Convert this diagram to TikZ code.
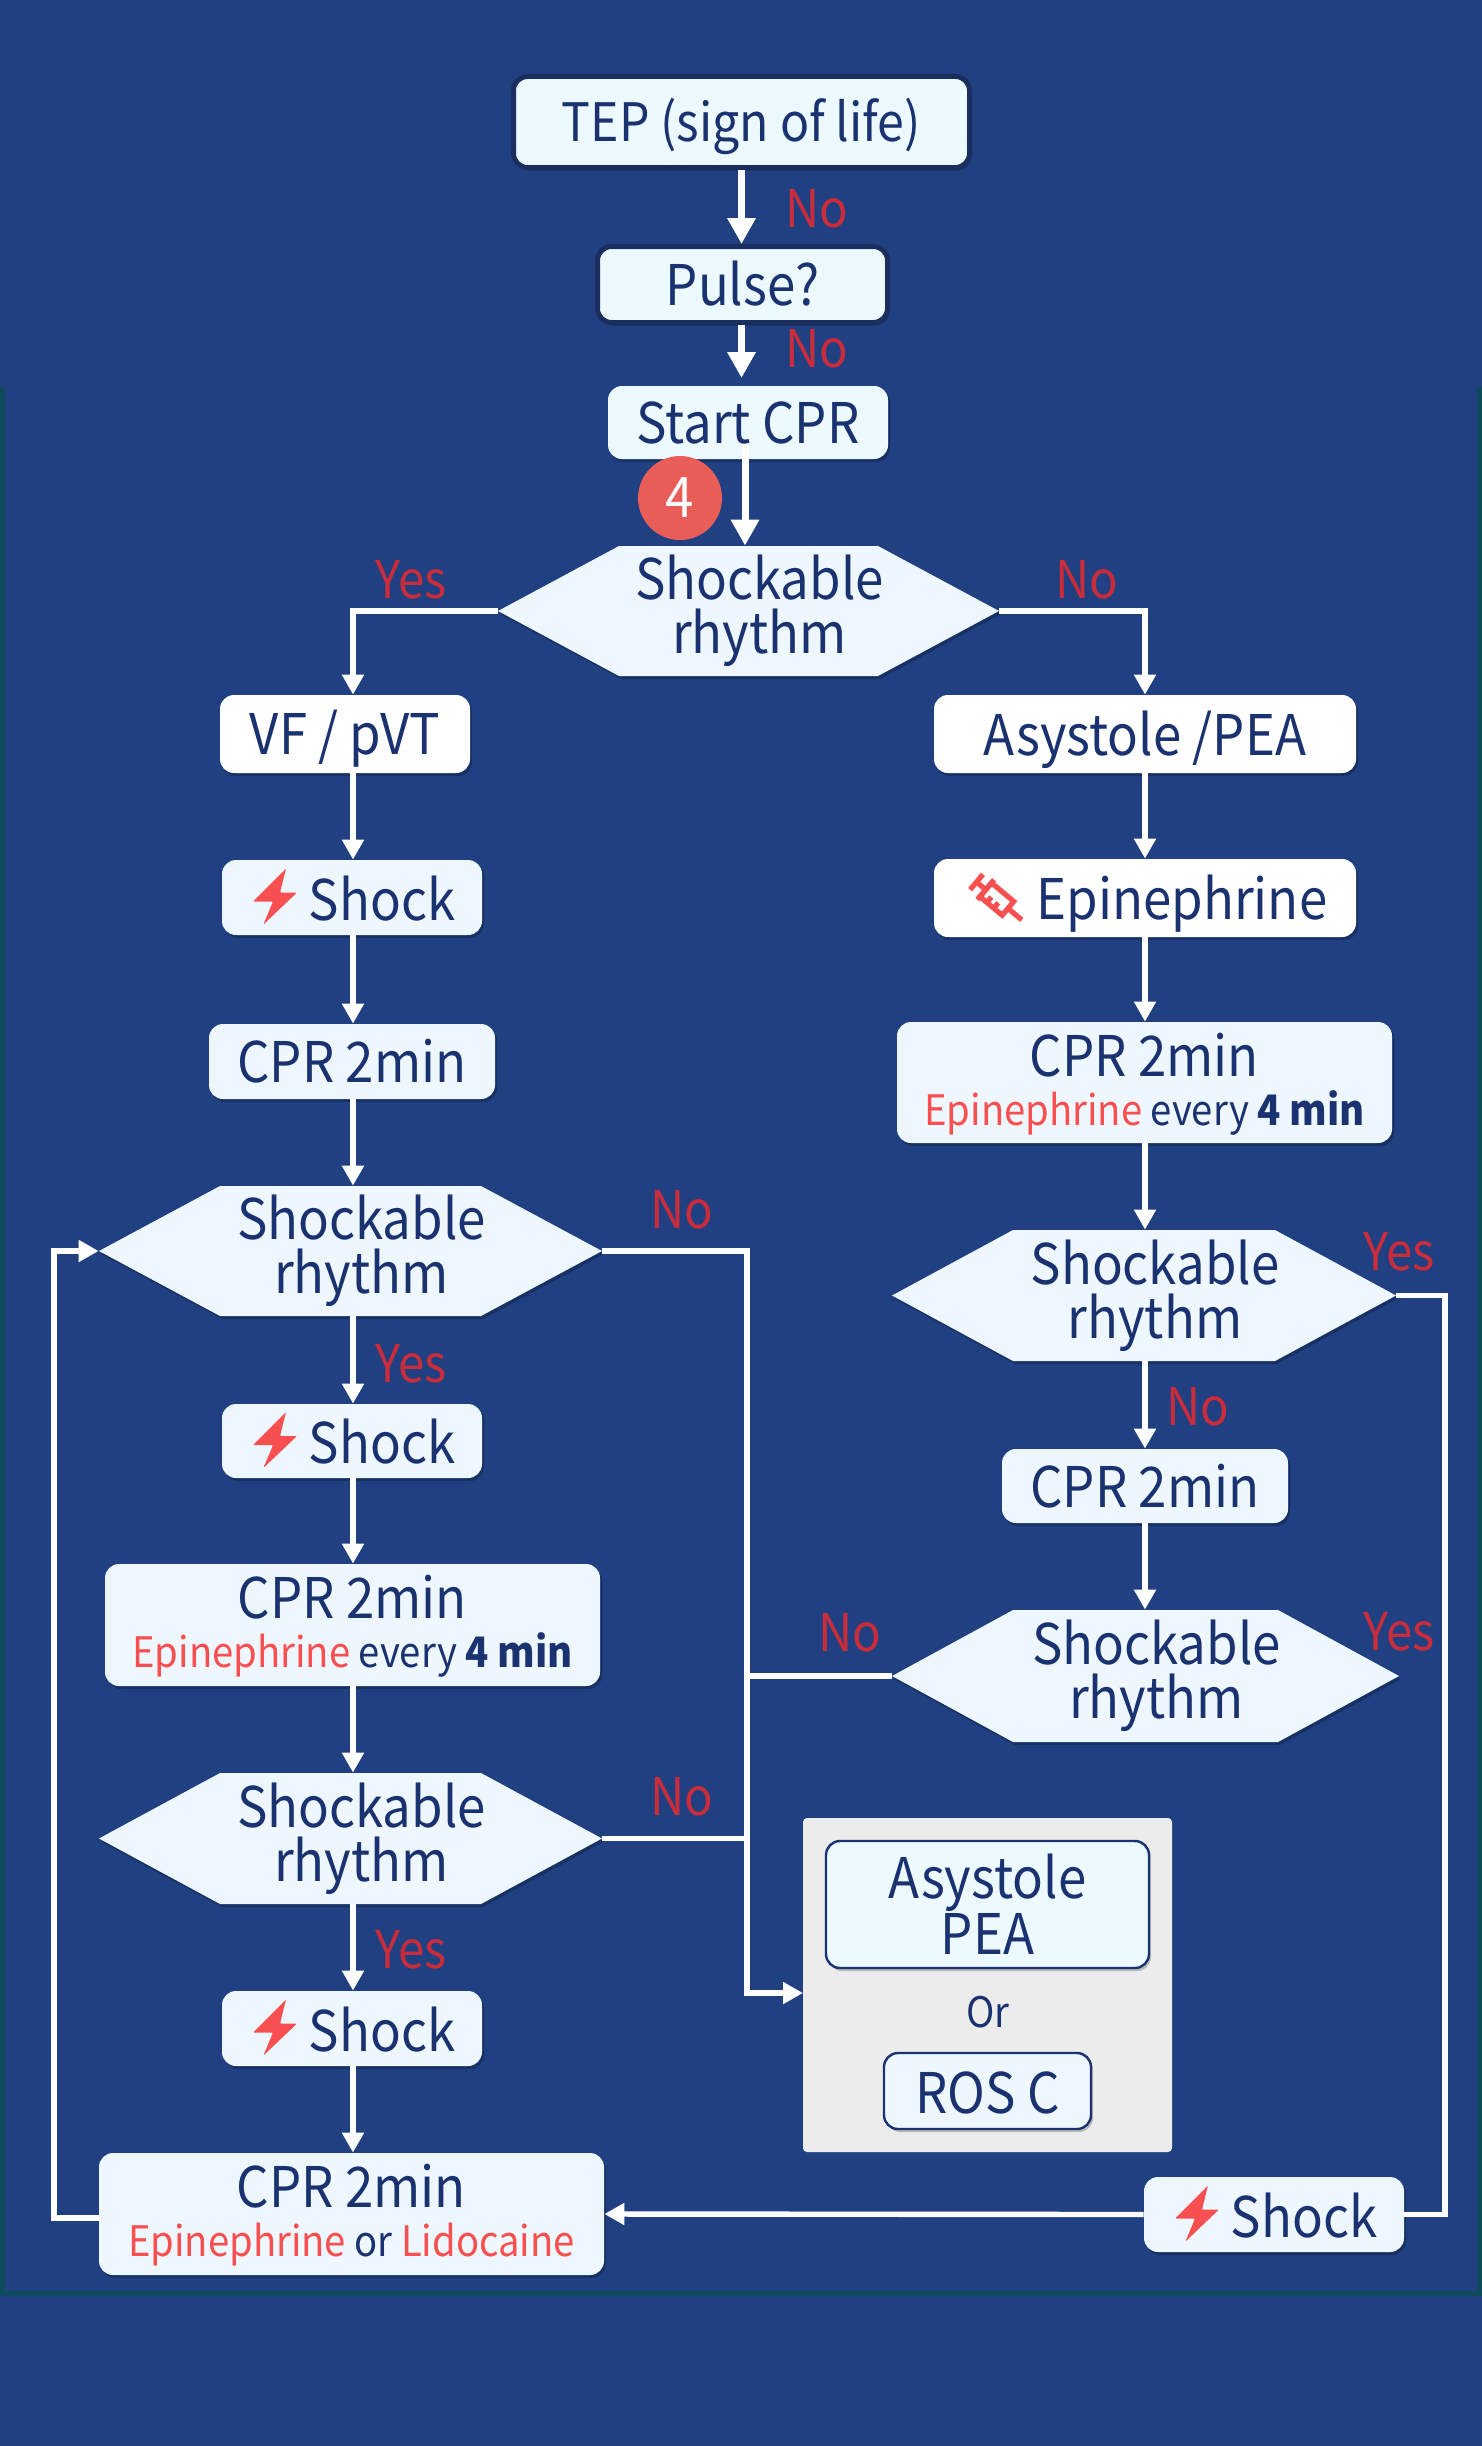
\documentclass[tikz,border=0pt]{standalone}
\usepackage{fontspec}
\setmainfont[FakeStretch=0.91]{Noto Sans CJK KR}
\usepackage{xcolor}
\usetikzlibrary{arrows.meta,calc,shadows}
\definecolor{PageBlue}{HTML}{204082}
\definecolor{FrameTeal}{HTML}{0F4A5C}
\definecolor{BoxFill}{HTML}{EEF7FD}
\definecolor{TintFill}{HTML}{ECFAFF}
\definecolor{BoxText}{HTML}{1B3270}
\definecolor{BoxEdge}{HTML}{1B2F5E}
\definecolor{HotRed}{HTML}{F85050}
\definecolor{LabelRed}{HTML}{C92C3B}
\definecolor{BadgeRed}{HTML}{E85D58}
\definecolor{PanelGray}{HTML}{ECECEC}
\tikzset{
  sz/.style 2 args={minimum width=#1*0.5pt,minimum height=#2*0.5pt},
  softshadow/.style={drop shadow={shadow xshift=1pt,shadow yshift=-1.5pt,fill=black,opacity=0.22}},
  tallbox/.style={rectangle,rounded corners=7pt,fill=BoxFill,text=BoxText,inner sep=0pt,align=center,
    font=\fontsize{28}{30}\selectfont,softshadow},
  stepbox/.style={tallbox,text height=21pt,text depth=0pt},
  shockbox/.style={stepbox,text height=22.5pt},
  whitebox/.style={stepbox,fill=white},
  edgebox/.style={stepbox,fill=TintFill,draw=BoxEdge,line width=2.5pt},
  hexbox/.style={rectangle,text=BoxText,inner sep=0pt,align=center,font=\fontsize{28}{26.8}\selectfont},
  hexpaint/.style={fill=BoxFill,softshadow},
  lab/.style={text=LabelRed,inner sep=0pt,font=\fontsize{26}{28}\selectfont},
  flow/.style={draw=white,line width=2.7pt,-{Triangle[length=10pt,width=10.5pt]}},
  flowbig/.style={draw=white,line width=3.5pt,-{Triangle[length=13pt,width=13.5pt]}},
  wire/.style={draw=white,line width=2.7pt},
  bolt/.pic={\fill[HotRed,rounded corners=0.5pt] (-66,-29) -- (-99,4) -- (-79,4) -- (-88.6,27) -- (-55,-5) -- (-72,-5) -- cycle;},
  syringe/.pic={
    \begin{scope}[shift={(-147,2)},rotate=-40,draw=HotRed,line width=2.6pt]
      \draw (-28,-10) -- (-28,10);
      \draw (-28,0) -- (-16,0);
      \draw (-16,-13) -- (-16,13);
      \draw (-16,-9) rectangle (13,9);
      \draw (-7,9) -- (-7,2) (2,9) -- (2,2);
      \draw (13,0) -- (31,0);
    \end{scope}}
}
\newcommand{\cprline}{\rule{0pt}{23pt}CPR 2min}
\newcommand{\epiline}{{\fontsize{21}{24}\selectfont\textcolor{HotRed}{Epinephrine} every \textbf{4 min}}}
% name, centre x, centre y, width, height
\newcommand{\hexnode}[5]{%
  \path[hexpaint] ({#2-#4/2},#3) -- ({#2-#4/2+121},{#3-#5/2}) -- ({#2+#4/2-121},{#3-#5/2}) -- ({#2+#4/2},#3)
    -- ({#2+#4/2-121},{#3+#5/2}) -- ({#2-#4/2+121},{#3+#5/2}) -- cycle;
  \node[hexbox,sz={#4}{#5}] (#1) at (#2,#3) {\hspace*{11pt}Shockable\\\hspace*{11pt}rhythm};
}
\begin{document}
\begin{tikzpicture}[x=0.5pt,y=-0.5pt]
    \useasboundingbox (0,0) rectangle (1482,2446);
    \fill[PageBlue] (0,0) rectangle (1482,2446);
    \draw[FrameTeal,line width=2.5pt] (2.5,387) -- (2.5,2293) -- (1479.5,2293) -- (1479.5,387);

    \coordinate (colL) at (353,0);
    \coordinate (colR) at (1145,0);
    \coordinate (busL) at (747,0);
    \coordinate (busR) at (1445,0);
    \coordinate (loopL) at (54,0);

    % top
    \node[edgebox,sz={456}{91},font=\fontsize{26.5}{30}\selectfont,text height=19.5pt] (tep) at (741.5,122) {TEP (sign of life)};
    \node[edgebox,sz={290}{76}] (pulse) at (742.5,284.5) {Pulse?};
    \node[stepbox,fill=TintFill,sz={280}{73}] (startcpr) at (748,422.5) {Start CPR};
    \hexnode{hexa}{748.5}{611}{501}{130}
    \coordinate (cprout) at (745,444);

    % left column
    \node[whitebox,sz={250}{78},text height=20pt] (vf) at (345,734) {VF / pVT};
    \node[shockbox,sz={260}{75}] (shocka) at (352,897.5) {\hspace*{30pt}Shock};
    \node[stepbox,sz={286}{75}] (cpra) at (352,1061.5) {CPR 2min};
    \hexnode{hexb}{350.5}{1251}{503}{130}
    \node[shockbox,sz={260}{74}] (shockb) at (352,1441) {\hspace*{30pt}Shock};
    \node[tallbox,sz={495}{122}] (cprc) at (352.5,1625) {\cprline\\[-5.5pt]\epiline};
    \hexnode{hexc}{350.5}{1838.5}{503}{131}
    \node[shockbox,sz={260}{75}] (shockc) at (352,2028.5) {\hspace*{30pt}Shock};
    \node[tallbox,sz={505}{122}] (cpre) at (351.5,2214) {\cprline\\[-5.5pt]{\fontsize{21}{24}\selectfont\textcolor{HotRed}{Epinephrine} or \textcolor{HotRed}{Lidocaine}}};

    % right column
    \node[whitebox,sz={422}{78}] (asys) at (1145,734) {Asystole /PEA};
    \node[whitebox,sz={422}{78}] (epi) at (1145,898) {\hspace*{37pt}Epinephrine};
    \node[tallbox,sz={495}{121}] (cprb) at (1144.5,1082.5) {\cprline\\[-5.5pt]\epiline};
    \hexnode{hexe}{1144}{1295.5}{504}{131}
    \node[stepbox,sz={286}{74}] (cprd) at (1145,1486) {CPR 2min};
    \hexnode{hexf}{1145.5}{1676}{507}{132}
    \node[shockbox,sz={260}{75}] (shockd) at (1274,2214.5) {\hspace*{30pt}Shock};

    % end panel
    \node[rectangle,rounded corners=2pt,fill=PanelGray,sz={369}{334}] (panel) at (987.5,1985) {};
    \node[tallbox,draw=BoxText,line width=1.2pt,fill=TintFill,sz={323}{127},font=\fontsize{28}{26.8}\selectfont] (asysb) at (987.5,1904.5) {Asystole\\PEA};
    \node[text=BoxText,inner sep=0pt,font=\fontsize{21}{24}\selectfont] (ortext) at (988,2012) {Or};
    \node[shockbox,draw=BoxText,line width=1.2pt,sz={207}{76}] (rosc) at (987.5,2091) {ROS C};
    \coordinate (panelin) at (803,1993);

    \node[circle,fill=BadgeRed,text=white,inner sep=0pt,minimum size=42pt,font=\fontsize{28}{30}\selectfont] (badge) at (680,498) {4};

    \pic at (shocka) {bolt};
    \pic at (shockb) {bolt};
    \pic at (shockc) {bolt};
    \pic at (shockd) {bolt};
    \pic at (epi) {syringe};

    % connectors
    \draw[flowbig] (tep.south) -- (pulse.north -| tep.south);
    \draw[flowbig] (pulse.south -| tep.south) -- ++(0,53);
    \draw[flowbig] (cprout) -- (cprout |- hexa.north);

    \draw[flow] (hexa.west) -| (colL |- vf.north);
    \draw[flow] (hexa.east) -| (colR |- asys.north);
    \draw[flow] (colL |- vf.south) -- (colL |- shocka.north);
    \draw[flow] (colL |- shocka.south) -- (colL |- cpra.north);
    \draw[flow] (colL |- cpra.south) -- (colL |- hexb.north);
    \draw[flow] (colL |- hexb.south) -- (colL |- shockb.north);
    \draw[flow] (colL |- shockb.south) -- (colL |- cprc.north);
    \draw[flow] (colL |- cprc.south) -- (colL |- hexc.north);
    \draw[flow] (colL |- hexc.south) -- (colL |- shockc.north);
    \draw[flow] (colL |- shockc.south) -- (colL |- cpre.north);

    \draw[flow] (colR |- asys.south) -- (colR |- epi.north);
    \draw[flow] (colR |- epi.south) -- (colR |- cprb.north);
    \draw[flow] (colR |- cprb.south) -- (colR |- hexe.north);
    \draw[flow] (colR |- hexe.south) -- (colR |- cprd.north);
    \draw[flow] (colR |- cprd.south) -- (colR |- hexf.north);

    \draw[flow] ([yshift=-2pt]cpre.west) -| (loopL |- hexb.west) -- (hexb.west);
    \draw[flow] (hexb.east) -| (busL |- panelin) -- (panelin);
    \draw[wire] (hexc.east) -- (hexc.east -| busL);
    \draw[wire] (hexf.west) -- (hexf.west -| busL);
    \draw[wire] (hexe.east) -| (busR |- shockd.east) -- (shockd.east);
    \draw[flow] (shockd.west) -- (cpre.east);

    % labels
    \node[lab] (noa) at (817,208.5) {No};
    \node[lab] (nob) at (817,349) {No};
    \node[lab] (yesa) at (411,580) {Yes};
    \node[lab] (noc) at (1087,580) {No};
    \node[lab] (nod) at (682,1210) {No};
    \node[lab] (yesb) at (411,1364) {Yes};
    \node[lab] (yesc) at (1399,1252) {Yes};
    \node[lab] (noe) at (1198,1407) {No};
    \node[lab] (nof) at (850,1633) {No};
    \node[lab] (yesd) at (1399,1632) {Yes};
    \node[lab] (nog) at (682,1797) {No};
    \node[lab] (yese) at (411,1950) {Yes};
\end{tikzpicture}
\end{document}
